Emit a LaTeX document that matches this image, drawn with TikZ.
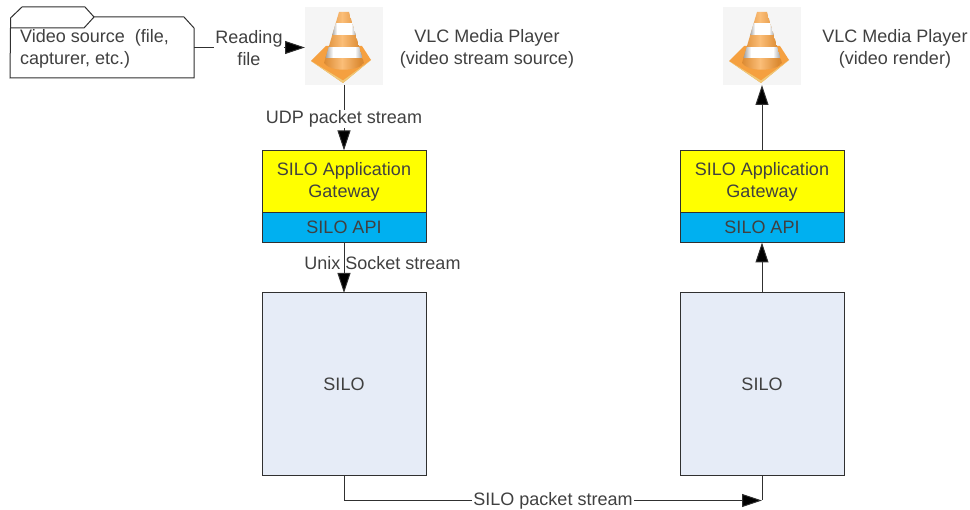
\documentclass[tikz,border=0pt]{standalone}
\usepackage{fontspec}
\setmainfont{Liberation Sans}
\usetikzlibrary{arrows.meta,calc}
\definecolor{ink}{HTML}{404040}
\definecolor{edge}{HTML}{303030}
\definecolor{conebg}{HTML}{F5F5F5}
\definecolor{gw}{HTML}{FFFF00}
\definecolor{api}{HTML}{00B0F0}
\definecolor{silofill}{HTML}{E6ECF7}
\definecolor{conelight}{HTML}{FBBE78}
\definecolor{conemid}{HTML}{F5A040}
\definecolor{conedark}{HTML}{DB8A32}
\definecolor{baseedge}{HTML}{EFC878}
\tikzset{
  x=1pt,y=-1pt,
  txt/.style={font=\fontsize{18}{22}\selectfont,text=ink,align=center,inner sep=1pt},
  boxbase/.style={draw=edge,line width=1pt,minimum width=164pt,inner sep=0pt,outer sep=0pt,txt},
  gwbox/.style={boxbase,fill=gw,minimum height=62pt},
  apibox/.style={boxbase,fill=api,minimum height=30pt},
  silobox/.style={boxbase,fill=silofill,minimum height=183pt},
  conebox/.style={fill=conebg,minimum width=78pt,minimum height=78pt,inner sep=0pt,outer sep=0pt},
  conn/.style={draw=edge,line width=1pt},
  arr/.style={conn,-{Triangle[length=20pt,width=13pt,fill=black]}},
  vlccone/.pic={
    % base plate
    \fill[conemid] (-33,15) -- (-18,0) -- (18,0) -- (27,14) -- (-1,37) -- cycle;
    \fill[baseedge] (-33,15) -- (-1,37) -- (27,14) -- (-1,34.5) -- cycle;
    % cone body and stripes, built from vertical slices
    \begin{scope}
      \clip (-5,-34) -- (5,-34) -- (20,17) .. controls (14,26) and (-14,26) .. (-20,17) -- cycle;
      \foreach \i in {-21,...,20}{
        \pgfmathsetmacro{\m}{min(100,100*abs(\i+2)/18)}
        \fill[conedark!\m!conelight] (\i,-36) rectangle (\i+1.2,30);
      }
      \foreach \i in {-21,...,20}{
        \pgfmathsetmacro{\s}{abs(\i)<7?0:(abs(\i)-7)*7}
        \fill[black!\s!white] (\i,-23) rectangle (\i+1.2,-11);
        \pgfmathsetmacro{\t}{abs(\i)<11?0:(abs(\i)-11)*5}
        \fill[black!\t!white] (\i,1) rectangle (\i+1.2,12);
      }
    \end{scope}
  }
}
\begin{document}
\begin{tikzpicture}
\useasboundingbox (0,0) rectangle (970,510);
% folder
\node[minimum width=184pt,minimum height=61pt,inner sep=0pt,outer sep=0pt] (source) at (102,47.5) {};
\draw[conn,fill=white] (source.south west) -- (10.5,28) -- (10.5,18) -- (22,7) -- (85,7) -- (94,17)
  -- (184,17) -- (194,28) -- (source.south east) -- cycle;
\draw[conn] (10.5,28) -- (84,28) -- (94,17);
\node[txt,align=left,anchor=west] (sourcetext) at (19,48.5) {Video source~~(file,\\capturer, etc.)};
% cones
\node[conebox] (vlcA) at (344,46) {};
\node[conebox] (vlcB) at (762,46) {};
\pic at (vlcA) {vlccone};
\pic at (vlcB) {vlccone};
\node[txt] (vlcAtext) at (487,49) {VLC Media Player\\(video stream source)};
\node[txt] (vlcBtext) at (895,49) {VLC Media Player\\(video render)};
% left stack
\node[gwbox] (gwA) at (344,181.5) {SILO Application\\Gateway};
\node[apibox] (apiA) at (344,227.5) {SILO API};
\node[silobox] (siloA) at (344,384.5) {SILO};
% right stack
\node[gwbox] (gwB) at (762,181.5) {SILO Application\\Gateway};
\node[apibox] (apiB) at (762,227.5) {SILO API};
\node[silobox] (siloB) at (762,384.5) {SILO};
% connectors
\coordinate (srcout) at (source.east);
\draw[arr] (srcout) -- (vlcA.west |- srcout);
\node[txt,fill=white] (readlabel) at (249,48) {Reading\\file};
\draw[arr] (vlcA.south) -- (gwA.north);
\node[txt,fill=white] (udplabel) at (344,119) {UDP packet stream};
\draw[arr] (apiA.south) -- (siloA.north);
\node[txt] (unixlabel) at (382.5,263.5) {Unix Socket stream};
\draw[arr] (siloB.north) -- (apiB.south);
\draw[arr] (gwB.north) -- (vlcB.south);
\coordinate (corner) at (762,500.5);
\draw[arr] (siloA.south) |- (corner);
\draw[conn] (siloB.south) -- (corner);
\node[txt,fill=white,inner ysep=0pt] (silolabel) at (553,501) {SILO packet stream};
\end{tikzpicture}
\end{document}
